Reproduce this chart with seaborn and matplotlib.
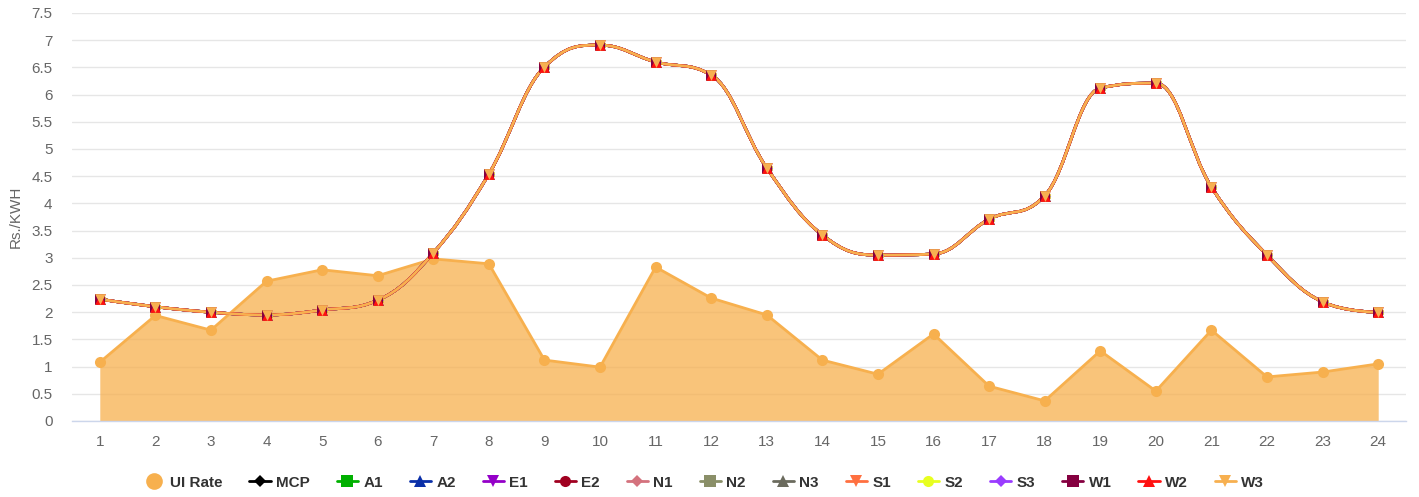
import numpy as np
import pandas as pd
import matplotlib
matplotlib.use("Agg")
import matplotlib.pyplot as plt
import seaborn as sns
from matplotlib.path import Path
from matplotlib.patches import PathPatch
from matplotlib.lines import Line2D

# ---------------- data ----------------
hours = list(range(1, 25))
ui_rate = [1.08, 1.94, 1.67, 2.57, 2.78, 2.67, 2.98, 2.89, 1.12, 0.99, 2.83, 2.26,
           1.95, 1.12, 0.86, 1.60, 0.64, 0.37, 1.29, 0.55, 1.67, 0.81, 0.90, 1.05]
mcp = [2.24, 2.10, 2.00, 1.95, 2.04, 2.22, 3.09, 4.54, 6.51, 6.91, 6.60, 6.36,
       4.65, 3.42, 3.05, 3.07, 3.71, 4.14, 6.12, 6.21, 4.30, 3.05, 2.19, 2.00]
series_names = ["MCP", "A1", "A2", "E1", "E2", "N1", "N2", "N3",
                "S1", "S2", "S3", "W1", "W2", "W3"]
# all regional prices coincide with MCP in this chart
series_values = {name: mcp for name in series_names}
series_colors = ["#000000", "#00b000", "#0a2fa8", "#9400c8", "#a00020", "#d4727d",
                 "#8a8f68", "#6b6b5e", "#ff7040", "#e8ff20", "#9a3cff", "#850040",
                 "#ff1010", "#f7b050"]
series_markers = ["D", "s", "^", "v", "o", "D", "s", "^", "v", "o", "D", "s", "^", "v"]
y_ticks = [0, 0.5, 1, 1.5, 2, 2.5, 3, 3.5, 4, 4.5, 5, 5.5, 6, 6.5, 7, 7.5]
y_tick_labels = ["0", "0.5", "1", "1.5", "2", "2.5", "3", "3.5", "4", "4.5",
                 "5", "5.5", "6", "6.5", "7", "7.5"]
ui_color = "#f7b04e"


def spline_path(xs, ys, smoothing=1.5, denom=2.5):
    n = len(xs)
    lc = [None] * n
    rc = [None] * n
    for i in range(1, n - 1):
        px, py = xs[i], ys[i]
        lx, ly = xs[i - 1], ys[i - 1]
        nx, ny = xs[i + 1], ys[i + 1]
        lcx = (smoothing * px + lx) / denom
        lcy = (smoothing * py + ly) / denom
        rcx = (smoothing * px + nx) / denom
        rcy = (smoothing * py + ny) / denom
        if rcx != lcx:
            corr = ((rcy - lcy) * (rcx - px)) / (rcx - lcx) + py - rcy
            lcy += corr
            rcy += corr
        if lcy > ly and lcy > py:
            lcy = max(ly, py); rcy = 2 * py - lcy
        elif lcy < ly and lcy < py:
            lcy = min(ly, py); rcy = 2 * py - lcy
        if rcy > ny and rcy > py:
            rcy = max(ny, py); lcy = 2 * py - rcy
        elif rcy < ny and rcy < py:
            rcy = min(ny, py); lcy = 2 * py - rcy
        lc[i] = (lcx, lcy)
        rc[i] = (rcx, rcy)
    verts = [(xs[0], ys[0])]
    codes = [Path.MOVETO]
    for i in range(1, n):
        c1 = rc[i - 1] if rc[i - 1] is not None else (xs[i - 1], ys[i - 1])
        c2 = lc[i] if lc[i] is not None else (xs[i], ys[i])
        verts += [c1, c2, (xs[i], ys[i])]
        codes += [Path.CURVE4] * 3
    return Path(verts, codes)


sns.set_theme(style="white")
plt.rcParams["font.family"] = ["Liberation Sans", "DejaVu Sans"]

fig = plt.figure(figsize=(14.19, 4.97), dpi=100)
ax = fig.add_axes([72 / 1419, 76 / 497, 1334 / 1419, 408 / 497])

df_ui = pd.DataFrame({"hour": hours, "ui": ui_rate})
ax.fill_between(df_ui["hour"], 0, df_ui["ui"], color=ui_color, alpha=0.75,
                linewidth=0, zorder=2)
sns.lineplot(data=df_ui, x="hour", y="ui", ax=ax, color=ui_color, linewidth=2,
             marker="o", markersize=8, markeredgewidth=0, zorder=3, legend=False)

for k, name in enumerate(series_names):
    vals = series_values[name]
    p = spline_path(hours, vals)
    ax.add_patch(PathPatch(p, facecolor="none", edgecolor=series_colors[k],
                           linewidth=2, zorder=4 + k * 0.01))
    d = pd.DataFrame({"hour": hours, "v": vals})
    size = 30 if series_markers[k] == "D" else 60
    sns.scatterplot(data=d, x="hour", y="v", ax=ax, color=series_colors[k],
                    marker=series_markers[k], s=size, linewidth=0,
                    zorder=5 + k * 0.01, legend=False)

ax.set_xlim(0.5, 24.5)
ax.set_ylim(0, 7.5)
ax.set_yticks(y_ticks)
ax.set_yticklabels(y_tick_labels)
ax.set_xticks(hours)
ax.set_xticklabels([str(h) for h in hours])
ax.set_xticks(np.arange(0.5, 25, 1), minor=True)
ax.grid(axis="y", color="#e6e6e6", linewidth=1, zorder=0)
ax.set_axisbelow(True)
for s in ["left", "right", "top"]:
    ax.spines[s].set_visible(False)
ax.spines["bottom"].set_color("#ccd6eb")
ax.spines["bottom"].set_linewidth(1)
ax.tick_params(axis="y", length=0, pad=14, labelsize=11, labelcolor="#666666")
ax.tick_params(axis="x", which="major", length=0, pad=10, labelsize=11,
               labelcolor="#666666")
ax.tick_params(axis="x", which="minor", length=8, width=1, color="#ccd6eb")
ax.set_xlabel("")
ax.set_ylabel("Rs./KWH", fontsize=11, color="#666666")
ax.yaxis.set_label_coords(-0.037, 0.5)

handles = [Line2D([], [], color=ui_color, marker="o", linestyle="none",
                  markersize=12, markeredgewidth=0)]
labels = ["UI Rate"]
for k, name in enumerate(series_names):
    ms = 6 if series_markers[k] == "D" else 8
    handles.append(Line2D([], [], color=series_colors[k], marker=series_markers[k],
                          linewidth=2, markersize=ms, markeredgewidth=0))
    labels.append(name)
leg = fig.legend(handles, labels, loc="center", bbox_to_anchor=(0.496, 0.029),
                 ncol=15, frameon=False, handlelength=1.4, handletextpad=0.35,
                 columnspacing=1.75, prop={"weight": "bold", "size": 11})
for t in leg.get_texts():
    t.set_color("#333333")

fig.savefig("out.png", dpi=100)
